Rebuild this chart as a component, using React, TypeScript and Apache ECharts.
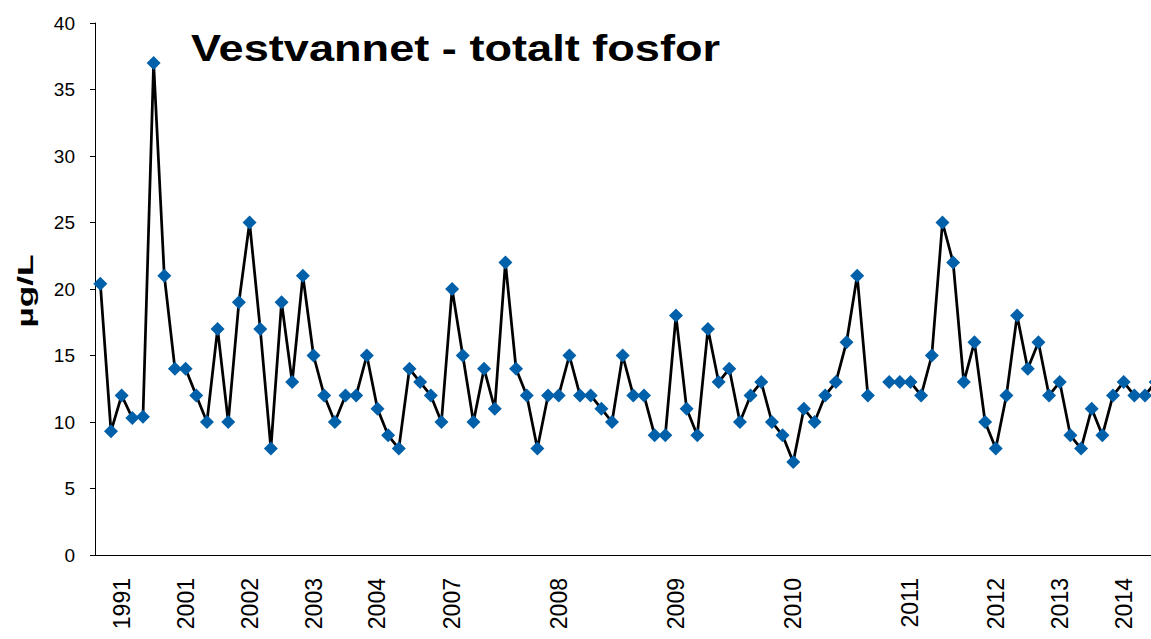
import React, { useEffect, useRef } from "react";
import * as echarts from "echarts";

const titleText = "Vestvannet - totalt fosfor";
const yAxisName = "µg/L";

const labelIndices = [2, 8, 14, 20, 26, 33, 43, 54, 65, 76, 84, 90, 96];
const labelYears = ["1991", "2001", "2002", "2003", "2004", "2007", "2008", "2009", "2010", "2011", "2012", "2013", "2014"];

const values: (number | null)[] = [
  20.4, 9.3, 12, 10.3, 10.4, 37, 21, 14, 14, 12,
  10, 17, 10, 19, 25, 17, 8, 19, 13, 21,
  15, 12, 10, 12, 12, 15, 11, 9, 8, 14,
  13, 12, 10, 20, 15, 10, 14, 11, 22, 14,
  12, 8, 12, 12, 15, 12, 12, 11, 10, 15,
  12, 12, 9, 9, 18, 11, 9, 17, 13, 14,
  10, 12, 13, 10, 9, 7, 11, 10, 12, 13,
  16, 21, 12, null, 13, 13, 13, 12, 15, 25,
  22, 13, 16, 10, 8, 12, 18, 14, 16, 12,
  13, 9, 8, 11, 9, 12, 13, 12, 12, 13,
];

const yTicks = { min: 0, max: 40, interval: 5 };

const categories = values.map((_, i) => {
  const k = labelIndices.indexOf(i);
  return k >= 0 ? labelYears[k] : "";
});

const FONT = "'Liberation Sans', Arial, Helvetica, sans-serif";

export default function App() {
  const ref = useRef<HTMLDivElement>(null);

  useEffect(() => {
    if (!ref.current) return;
    const chart = echarts.init(ref.current, undefined, { renderer: "svg" });
    chart.setOption({
      animation: false,
      backgroundColor: "#ffffff",
      grid: { left: 95, top: 23, width: 1066, height: 532, containLabel: false },
      graphic: [
        {
          type: "text",
          x: 191,
          y: 48.5,
          scaleX: 1.22,
          scaleY: 1,
          style: {
            text: titleText,
            font: `bold 37px ${FONT}`,
            fill: "#000000",
            textAlign: "left",
            textVerticalAlign: "middle",
            verticalAlign: "middle",
          },
        },
        {
          type: "text",
          x: 25,
          y: 291,
          rotation: Math.PI / 2,
          scaleX: 1.6,
          scaleY: 1,
          style: {
            text: yAxisName,
            font: `bold 22px ${FONT}`,
            fill: "#000000",
            textAlign: "center",
            align: "center",
            textVerticalAlign: "middle",
            verticalAlign: "middle",
          },
        },
      ],
      xAxis: {
        type: "category",
        data: categories,
        boundaryGap: true,
        axisLine: { show: true, lineStyle: { color: "#000000", width: 1 } },
        axisTick: { show: false },
        splitLine: { show: false },
        axisLabel: {
          interval: 0,
          rotate: 90,
          margin: 23,
          fontSize: 23,
          fontFamily: FONT,
          color: "#000000",
        },
      },
      yAxis: {
        type: "value",
        min: yTicks.min,
        max: yTicks.max,
        interval: yTicks.interval,
        axisLine: { show: true, lineStyle: { color: "#000000", width: 1 } },
        axisTick: { show: true, length: 5, inside: false, lineStyle: { color: "#000000" } },
        splitLine: { show: false },
        axisLabel: {
          margin: 20,
          fontSize: 19,
          fontFamily: FONT,
          color: "#000000",
        },
      },
      series: [
        {
          type: "line",
          data: values,
          connectNulls: false,
          symbol: "diamond",
          symbolSize: 14,
          showAllSymbol: true,
          itemStyle: { color: "#0060A9" },
          lineStyle: { color: "#000000", width: 2.75 },
          emphasis: { disabled: true },
        },
      ],
    });
    return () => chart.dispose();
  }, []);

  return (
    <div
      ref={ref}
      style={{ position: "fixed", left: 0, top: 0, width: 1200, height: 639, background: "#fff" }}
    />
  );
}
